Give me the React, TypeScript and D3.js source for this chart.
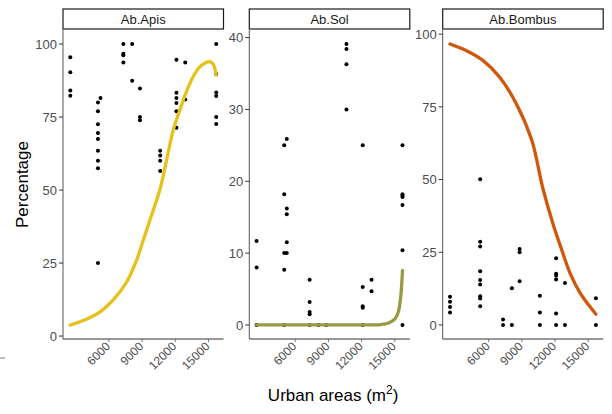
import React from "react";
import * as d3 from "d3";

// ---- data ----
const panelNames = ["Ab.Apis", "Ab.Sol", "Ab.Bombus"];
const sites = [2500, 5000, 5230, 7300, 8100, 8800, 10630, 12100, 12900, 15700];
const xTicks = [6000, 9000, 12000, 15000];

const apisValues: number[][] = [
  [95.5, 90.3, 84.1, 82.3],
  [80, 77, 72.5, 69.5, 67.5, 63.5, 60, 57.5, 25],
  [81.5],
  [100, 96.7, 96.2, 93.7],
  [100, 87.4],
  [84.8, 75, 73.9],
  [63.5, 61.8, 60, 56.5],
  [94.6, 83.3, 81.5, 79.8, 77, 71.3],
  [93.7, 81],
  [100, 89.7, 83.4, 82.2, 75, 72.6],
];
const solValues: number[][] = [
  [11.7, 8.0, 0],
  [25.0, 18.2, 10.0, 7.7, 0],
  [25.9, 16.2, 15.4, 11.5, 10.0],
  [6.3, 3.2, 1.8, 1.5, 0],
  [0],
  [0],
  [39.1, 38.4, 36.3, 30.0],
  [25.0, 5.3, 2.6, 2.4, 0],
  [6.3, 4.7],
  [25.0, 18.2, 18.0, 17.8, 16.7, 10.4, 0],
];
const bombusValues: number[][] = [
  [9.7, 8.0, 6.2, 4.3],
  [],
  [50.1, 28.6, 27.0, 18.5, 15.5, 13.9, 9.9, 9.1, 6.4],
  [1.9, 0],
  [12.6, 0],
  [26.1, 25.0, 15.0],
  [10.0, 4.3, 0],
  [22.9, 17.6, 16.9, 15.6, 3.9, 0],
  [14.4, 0],
  [9.2, 0],
];

const apisCurveX = [2500, 3800, 5200, 6500, 7600, 8500, 9100, 9850, 10600, 11200, 11800, 12400, 13000, 13600, 14200, 14700, 15050, 15400, 15700];
const apisCurveY = [3.8, 5.5, 8.3, 12.9, 18.5, 26, 32.8, 41.4, 50, 60, 70.4, 77.3, 83.6, 88.7, 92.1, 93.5, 94, 93.3, 89.3];
const solCurveX = [2500, 6000, 10000, 13000, 13500, 14000, 14500, 15000, 15300, 15500, 15620, 15700];
const solCurveY = [0, 0, 0, 0, 0.02, 0.1, 0.3, 0.8, 1.7, 3.4, 5.5, 7.6];
const bombusCurveX = [2500, 4000, 5500, 7000, 8500, 9900, 10900, 11800, 12600, 13350, 14250, 15000, 15700];
const bombusCurveY = [96.6, 94.3, 90.9, 85.2, 76.1, 63.5, 47, 35, 25.9, 17.9, 11.1, 7.1, 3.7];

const apisYTicks = [0, 25, 50, 75, 100];
const solYTicks = [0, 10, 20, 30, 40];
const bombusYTicks = [0, 25, 50, 75, 100];

const curveColors = ["#E6C11B", "#979A40", "#D0580C"];

// ---- layout ----
const W = 612;
const H = 414;
const panelLefts = [63, 249.3, 442.7];
const panelW = 160.5;
const plotTop = 30;
const plotBottom = 339;
const stripTop = 9;
const FONT = "'Liberation Sans', Arial, Helvetica, sans-serif";

function expand(lo: number, hi: number): [number, number] {
  const d = (hi - lo) * 0.05;
  return [lo - d, hi + d];
}

type PanelDef = {
  name: string;
  values: number[][];
  cx: number[];
  cy: number[];
  yTicks: number[];
  color: string;
};

const panels: PanelDef[] = [
  { name: panelNames[0], values: apisValues, cx: apisCurveX, cy: apisCurveY, yTicks: apisYTicks, color: curveColors[0] },
  { name: panelNames[1], values: solValues, cx: solCurveX, cy: solCurveY, yTicks: solYTicks, color: curveColors[1] },
  { name: panelNames[2], values: bombusValues, cx: bombusCurveX, cy: bombusCurveY, yTicks: bombusYTicks, color: curveColors[2] },
];

const xDomain = expand(d3.min(sites)!, d3.max(sites)!);

function Panel({ p, left }: { p: PanelDef; left: number }) {
  const x = d3.scaleLinear().domain(xDomain).range([left, left + panelW]);
  const allY = p.values.flat().concat(p.cy);
  const y = d3
    .scaleLinear()
    .domain(expand(d3.min(allY)!, d3.max(allY)!))
    .range([plotBottom, plotTop]);
  const line = d3
    .line<number>()
    .x((_, i) => x(p.cx[i]))
    .y((d) => y(d))
    .curve(d3.curveCatmullRom.alpha(0.5));
  const pts: { sx: number; v: number }[] = [];
  p.values.forEach((vals, i) => vals.forEach((v) => pts.push({ sx: sites[i], v })));
  return (
    <g>
      {/* strip */}
      <rect x={left} y={stripTop} width={panelW} height={plotTop - 1 - stripTop} fill="#ffffff" stroke="#1a1a1a" strokeWidth={1.2} />
      <text x={left + panelW / 2} y={(stripTop + plotTop - 1) / 2} dy="0.36em" textAnchor="middle" fontFamily={FONT} fontSize={13} fill="#1a1a1a">
        {p.name}
      </text>
      {/* points */}
      {pts.map((d, i) => (
        <circle key={i} cx={x(d.sx)} cy={y(d.v)} r={2} fill="#000" />
      ))}
      {/* curve */}
      <path d={line(p.cy) || ""} fill="none" stroke={p.color} strokeWidth={3.3} strokeLinecap="round" strokeLinejoin="round" />
      {/* axes */}
      <line x1={left} x2={left} y1={plotTop} y2={plotBottom} stroke="#555" strokeWidth={1} />
      <line x1={left} x2={left + panelW} y1={plotBottom} y2={plotBottom} stroke="#333" strokeWidth={1} />
      {p.yTicks.map((t) => (
        <g key={t}>
          <line x1={left - 4} x2={left} y1={y(t)} y2={y(t)} stroke="#333" strokeWidth={1} />
          <text x={left - 6} y={y(t)} dy="0.36em" textAnchor="end" fontFamily={FONT} fontSize={13} fill="#4D4D4D">
            {t}
          </text>
        </g>
      ))}
      {xTicks.map((t) => (
        <g key={t}>
          <line x1={x(t)} x2={x(t)} y1={plotBottom} y2={plotBottom + 3} stroke="#555" strokeWidth={0.8} />
          <text
            transform={`translate(${x(t) + 2},${plotBottom + 8}) rotate(-45)`}
            textAnchor="end"
            fontFamily={FONT}
            fontSize={12}
            fill="#4D4D4D"
          >
            {t}
          </text>
        </g>
      ))}
    </g>
  );
}

export default function App() {
  const centerX = (panelLefts[0] + panelLefts[2] + panelW) / 2;
  return (
    <svg width={W} height={H} style={{ position: "absolute", left: 0, top: 0, background: "#fff" }}>
      <rect width={W} height={H} fill="#fff" />
      {panels.map((p, i) => (
        <Panel key={p.name} p={p} left={panelLefts[i]} />
      ))}
      <text
        transform={`translate(28,${(plotTop + plotBottom) / 2}) rotate(-90)`}
        textAnchor="middle"
        fontFamily={FONT}
        fontSize={17}
        fill="#000"
      >
        Percentage
      </text>
      <text x={centerX} y={401} textAnchor="middle" fontFamily={FONT} fontSize={17} fill="#000">
        Urban areas (m
        <tspan dy={-7} fontSize={12}>2</tspan>
        <tspan dy={7}>)</tspan>
      </text>
      <line x1={0} x2={5} y1={358} y2={358} stroke="#777" strokeWidth={1} />
    </svg>
  );
}
